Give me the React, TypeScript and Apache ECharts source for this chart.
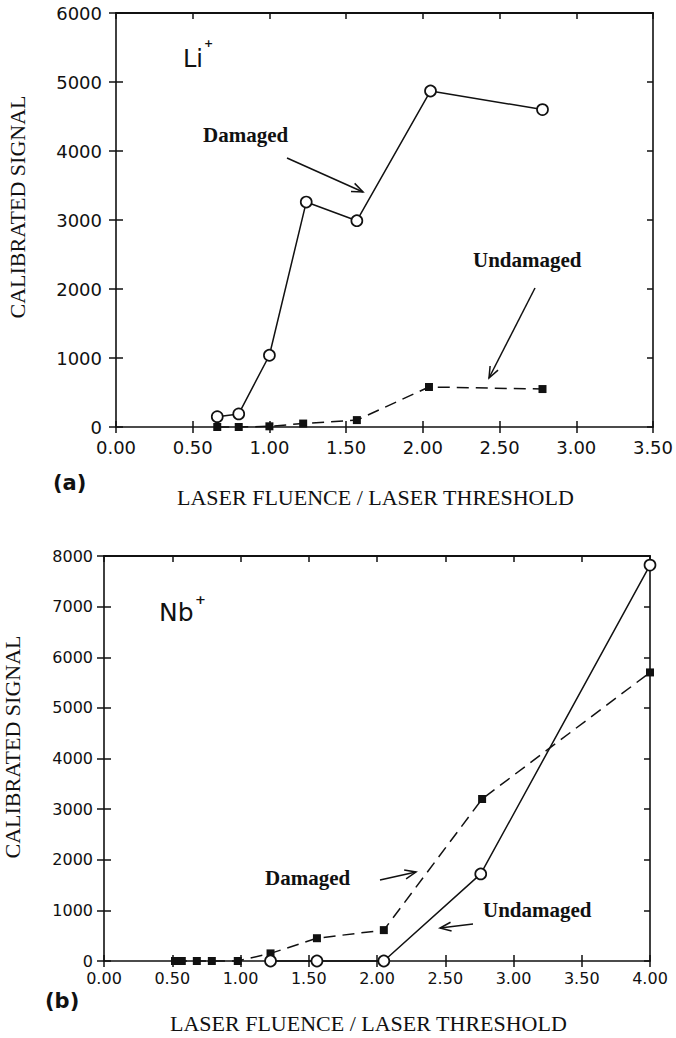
import React, { useEffect, useRef } from "react";
import * as echarts from "echarts";

// ---- Data: panel (a) Li+ ----
const liDamagedX = [0.66, 0.8, 1.0, 1.24, 1.57, 2.05, 2.78];
const liDamagedY = [150, 190, 1040, 3260, 2990, 4870, 4600];
const liUndamagedX = [0.66, 0.8, 1.0, 1.22, 1.57, 2.04, 2.78];
const liUndamagedY = [0, 0, 10, 50, 100, 580, 550];

// ---- Data: panel (b) Nb+ ----
const nbDamagedX = [0.52, 0.57, 0.68, 0.79, 0.98, 1.22, 1.56, 2.05, 2.77, 4.0];
const nbDamagedY = [0, 0, 0, 0, 0, 150, 450, 610, 3200, 5700];
const nbUndamagedX = [1.22, 1.56, 2.05, 2.76, 4.0];
const nbUndamagedY = [0, 0, 0, 1720, 7820];

// ---- Axis definitions ----
const aXMax = 3.5;
const aYMax = 6000;
const bXMax = 4.0;
const bYMax = 8000;
const xInterval = 0.5;
const yInterval = 1000;

const xTitle = "LASER FLUENCE / LASER THRESHOLD";
const yTitle = "CALIBRATED SIGNAL";

const pairs = (xs: number[], ys: number[]) => xs.map((x, i) => [x, ys[i]]);

const BLACK = "#111";
const tickFont = "DejaVu Sans";

function arrow(x1: number, y1: number, x2: number, y2: number) {
  const len = 12;
  const ang = 0.38;
  const a = Math.atan2(y2 - y1, x2 - x1);
  const p1 = [x2 - len * Math.cos(a - ang), y2 - len * Math.sin(a - ang)];
  const p2 = [x2 - len * Math.cos(a + ang), y2 - len * Math.sin(a + ang)];
  return [
    { type: "line", shape: { x1, y1, x2, y2 }, style: { stroke: BLACK, lineWidth: 1.5 } },
    {
      type: "polyline",
      shape: { points: [p1, [x2, y2], p2] },
      style: { stroke: BLACK, fill: null, lineWidth: 1.5 },
    },
  ];
}

function txt(x: number, y: number, text: string, opts: any = {}) {
  return {
    type: "text",
    x,
    y,
    rotation: opts.rotation || 0,
    style: {
      text,
      fill: BLACK,
      fontSize: opts.fontSize || 21,
      fontFamily: opts.fontFamily || "Liberation Serif",
      fontWeight: opts.fontWeight || "normal",
      align: opts.align || "left",
      verticalAlign: "middle",
    },
  };
}

function axesFor(grid: number, xMax: number, yMax: number, fs: number, xMargin: number, yMargin: number) {
  const line = { show: true, onZero: false, lineStyle: { color: BLACK, width: 1.6 } };
  const noLine = { show: false, onZero: false };
  const noLabel = { show: false };
  const tickStyle = { color: BLACK, width: 1.5 };
  const xBase = { type: "value", gridIndex: grid, min: 0, max: xMax, interval: xInterval, splitLine: { show: false } };
  const yBase = { type: "value", gridIndex: grid, min: 0, max: yMax, interval: yInterval, splitLine: { show: false } };
  const xs = [
    {
      ...xBase,
      position: "bottom",
      axisLine: line,
      axisTick: { show: true, inside: false, length: 6, lineStyle: tickStyle },
      axisLabel: {
        show: true,
        margin: xMargin,
        color: BLACK,
        fontFamily: tickFont,
        fontSize: fs,
        formatter: (v: number) => v.toFixed(2),
      },
    },
    {
      ...xBase,
      position: "bottom",
      axisLine: noLine,
      axisTick: { show: true, inside: true, length: 6, lineStyle: tickStyle },
      axisLabel: noLabel,
    },
    {
      ...xBase,
      position: "top",
      axisLine: { show: true, onZero: false, lineStyle: { color: BLACK, width: 2.2 } },
      axisTick: { show: true, inside: true, length: 6, lineStyle: tickStyle },
      axisLabel: noLabel,
    },
  ];
  const ys = [
    {
      ...yBase,
      position: "left",
      axisLine: line,
      axisTick: { show: true, inside: false, length: 7, lineStyle: tickStyle },
      axisLabel: {
        show: true,
        margin: yMargin,
        color: BLACK,
        fontFamily: tickFont,
        fontSize: fs,
        formatter: (v: number) => String(v),
      },
    },
    {
      ...yBase,
      position: "left",
      axisLine: noLine,
      axisTick: { show: true, inside: true, length: 7, lineStyle: tickStyle },
      axisLabel: noLabel,
    },
    {
      ...yBase,
      position: "right",
      axisLine: line,
      axisTick: { show: true, inside: true, length: 6, lineStyle: tickStyle },
      axisLabel: noLabel,
    },
  ];
  return { xs, ys };
}

function series(data: number[][], xIdx: number, yIdx: number, kind: "circle" | "square", dashed: boolean) {
  return {
    type: "line",
    xAxisIndex: xIdx,
    yAxisIndex: yIdx,
    data,
    clip: false,
    symbol: kind === "circle" ? "circle" : "rect",
    symbolSize: kind === "circle" ? 11 : 8,
    showSymbol: true,
    lineStyle: { color: BLACK, width: 1.5, type: dashed ? [12, 7] : "solid" },
    itemStyle:
      kind === "circle"
        ? { color: "#fff", borderColor: BLACK, borderWidth: 1.7 }
        : { color: BLACK, borderColor: BLACK, borderWidth: 0 },
    z: kind === "circle" ? 4 : 3,
  };
}

export default function App() {
  const ref = useRef<HTMLDivElement>(null);
  useEffect(() => {
    if (!ref.current) return;
    const chart = echarts.init(ref.current, null, { renderer: "svg" });
    const a = axesFor(0, aXMax, aYMax, 18, 11, 14);
    const b = axesFor(1, bXMax, bYMax, 16, 9, 11);
    const option: any = {
      animation: false,
      backgroundColor: "#fff",
      grid: [
        { left: 116, top: 13, width: 539, height: 414 },
        { left: 104, top: 556, width: 546, height: 405 },
      ],
      xAxis: [...a.xs, ...b.xs],
      yAxis: [...a.ys, ...b.ys],
      series: [
        series(pairs(liUndamagedX, liUndamagedY), 0, 0, "square", true),
        series(pairs(liDamagedX, liDamagedY), 0, 0, "circle", false),
        series(pairs(nbDamagedX, nbDamagedY), 3, 3, "square", true),
        series(pairs(nbUndamagedX, nbUndamagedY), 3, 3, "circle", false),
      ],
      graphic: [
        // panel (a)
        txt(183, 59, "Li", { fontFamily: "DejaVu Sans", fontSize: 24 }),
        txt(204, 43, "+", { fontFamily: "DejaVu Sans", fontSize: 11, fontWeight: "bold" }),
        txt(203, 135, "Damaged", { fontWeight: "bold" }),
        ...arrow(287, 158, 363, 192),
        txt(473, 260, "Undamaged", { fontWeight: "bold" }),
        ...arrow(535, 288, 489, 378),
        txt(53, 483, "(a)", { fontFamily: "DejaVu Sans", fontWeight: "bold", fontSize: 21 }),
        txt(177, 497, xTitle, { fontSize: 22 }),
        txt(17, 207, yTitle, { fontSize: 22, align: "center", rotation: Math.PI / 2 }),
        // panel (b)
        txt(159, 612, "Nb", { fontFamily: "DejaVu Sans", fontSize: 25 }),
        txt(195, 599, "+", { fontFamily: "DejaVu Sans", fontSize: 13, fontWeight: "bold" }),
        txt(265, 878, "Damaged", { fontWeight: "bold" }),
        ...arrow(380, 880, 416, 872),
        txt(483, 910, "Undamaged", { fontWeight: "bold" }),
        ...arrow(473, 924, 440, 928),
        txt(45, 1001, "(b)", { fontFamily: "DejaVu Sans", fontWeight: "bold", fontSize: 21 }),
        txt(170, 1023, xTitle, { fontSize: 22 }),
        txt(12, 747, yTitle, { fontSize: 22, align: "center", rotation: Math.PI / 2 }),
      ],
    };
    chart.setOption(option);
    return () => chart.dispose();
  }, []);
  return (
    <div
      ref={ref}
      style={{ position: "fixed", left: 0, top: 0, width: 676, height: 1038, background: "#fff" }}
    />
  );
}
